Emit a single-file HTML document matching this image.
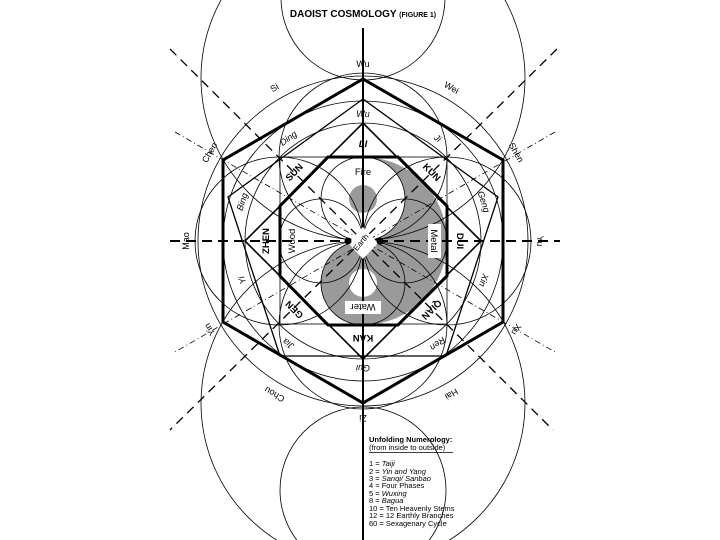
<!DOCTYPE html>
<html><head><meta charset="utf-8"><style>
html,body{margin:0;padding:0;background:#fff;width:720px;height:540px;overflow:hidden;}
svg{display:block;}
text{font-family:"Liberation Sans",sans-serif;fill:#000;}
.o{font-size:9px;}
.s{font-size:9px;font-style:italic;}
.t{font-size:9.5px;font-weight:bold;}
.e{font-size:9.5px;}
.l{font-size:7.5px;}
</style></head><body>
<svg width="720" height="540" viewBox="0 0 720 540" xmlns="http://www.w3.org/2000/svg">
<rect width="720" height="540" fill="#fff"/>
<!-- yin-yang gray -->
<path d="M363,157 A84,84 0 0 1 363,325 A42,42 0 0 1 363,241 A42,42 0 0 0 363,157 Z" fill="#9a9a9a"/>
<circle cx="363" cy="199" r="14" fill="#9a9a9a"/>
<circle cx="363" cy="283" r="14" fill="#fff"/>
<g fill="none" stroke="#000" stroke-width="0.8">
 <circle cx="363" cy="-2" r="82"/>
 <circle cx="363" cy="490" r="83"/>
 <circle cx="363" cy="78" r="162"/>
 <circle cx="363" cy="403" r="162"/>
 <circle cx="363" cy="241" r="165"/>
 <circle cx="363" cy="241" r="140"/>
 <circle cx="363" cy="241" r="118"/>
 <circle cx="363" cy="157" r="84"/>
 <circle cx="363" cy="325" r="84"/>
 <circle cx="279" cy="241" r="84"/>
 <circle cx="447" cy="241" r="84"/>
 <circle cx="363" cy="199" r="42"/>
 <circle cx="363" cy="283" r="42"/>
 <circle cx="321" cy="241" r="42"/>
 <circle cx="405" cy="241" r="42"/>
 <rect x="280" y="157" width="167" height="167"/>
 <polygon points="363,123 481,241 363,359 245,241" stroke-width="1.6"/>
 <polygon points="363,99 498,197 446,356 280,356 228,197" stroke-width="1.3"/>
</g>
<g stroke="#000" fill="none">
 <line x1="170" y1="49" x2="553" y2="430" stroke-width="1.3" stroke-dasharray="9,6"/>
 <line x1="557" y1="49" x2="170" y2="430" stroke-width="1.3" stroke-dasharray="9,6"/>
 <line x1="175" y1="132" x2="555" y2="352" stroke-width="0.8" stroke-dasharray="6,3,1,3"/>
 <line x1="555" y1="132" x2="175" y2="352" stroke-width="0.8" stroke-dasharray="6,3,1,3"/>
 <line x1="170" y1="241" x2="560" y2="241" stroke-width="2" stroke-dasharray="10,6"/>
 <line x1="363" y1="28" x2="363" y2="540" stroke-width="2"/>
 <polygon points="363,79 503,160 503,322 363,403 223,322 223,160" stroke-width="3"/>
 <polygon points="328,157 398,157 447,206 447,276 398,325 328,325 280,276 280,206" stroke-width="3"/>
</g>
<polygon points="363,227 378,243 363,259 348,243" fill="#fff"/>
<circle cx="348" cy="241" r="3.5" fill="#000"/>
<circle cx="380" cy="241" r="3.5" fill="#000"/>
<text x="363" y="244" text-anchor="middle" transform="rotate(-50 363 244)" font-size="8">Earth</text>
<text x="363" y="17" text-anchor="middle" font-size="10" font-weight="bold">DAOIST COSMOLOGY <tspan font-size="7">(FIGURE 1)</tspan></text>
<g class="o" text-anchor="middle">
 <text x="363" y="67" transform="rotate(0 363 241)">Wu</text>
 <text x="363" y="67" transform="rotate(30 363 241)">Wei</text>
 <text x="363" y="67" transform="rotate(60 363 241)">Shen</text>
 <text x="363" y="67" transform="rotate(90 363 241)">Yu</text>
 <text x="363" y="67" transform="rotate(120 363 241)">Xu</text>
 <text x="363" y="67" transform="rotate(150 363 241)">Hai</text>
 <text x="363" y="67" transform="rotate(180 363 241)">Zi</text>
 <text x="363" y="67" transform="rotate(210 363 241)">Chou</text>
 <text x="363" y="67" transform="rotate(240 363 241)">Yin</text>
 <text x="363" y="67" transform="rotate(270 363 241)">Mao</text>
 <text x="363" y="67" transform="rotate(300 363 241)">Chen</text>
 <text x="363" y="67" transform="rotate(330 363 241)">Si</text>
</g>
<g class="s" text-anchor="middle">
 <text x="363" y="117" transform="rotate(0 363 241)">Wu</text>
 <text x="363" y="117" transform="rotate(36 363 241)">Ji</text>
 <text x="363" y="117" transform="rotate(72 363 241)">Geng</text>
 <text x="363" y="117" transform="rotate(108 363 241)">Xin</text>
 <text x="363" y="117" transform="rotate(144 363 241)">Ren</text>
 <text x="363" y="117" transform="rotate(180 363 241)">Gui</text>
 <text x="363" y="117" transform="rotate(216 363 241)">Jia</text>
 <text x="363" y="117" transform="rotate(252 363 241)">Yi</text>
 <text x="363" y="117" transform="rotate(288 363 241)">Bing</text>
 <text x="363" y="117" transform="rotate(324 363 241)">Ding</text>
</g>
<g class="t" text-anchor="middle">
 <text x="363" y="147" transform="rotate(0 363 241)" font-style="italic">LI</text>
 <text x="363" y="147" transform="rotate(45 363 241)">KUN</text>
 <text x="363" y="147" transform="rotate(90 363 241)">DUI</text>
 <text x="363" y="147" transform="rotate(135 363 241)">QIAN</text>
 <text x="363" y="147" transform="rotate(180 363 241)">KAN</text>
 <text x="363" y="147" transform="rotate(225 363 241)">GEN</text>
 <text x="363" y="147" transform="rotate(270 363 241)">ZHEN</text>
 <text x="363" y="147" transform="rotate(315 363 241)">SUN</text>
</g>
<text class="e" x="363" y="175" text-anchor="middle">Fire</text>
<g transform="rotate(180 363 241)"><rect x="345" y="168" width="36" height="13" fill="#fff"/><text class="e" x="363" y="178" text-anchor="middle">Water</text></g>
<g transform="rotate(90 363 241)"><rect x="346" y="163" width="34" height="13" fill="#fff"/><text class="e" x="363" y="173" text-anchor="middle">Metal</text></g>
<g transform="rotate(-90 363 241)"><text class="e" x="363" y="173" text-anchor="middle">Wood</text></g>
<g class="l">
 <text x="369" y="442" font-weight="bold">Unfolding Numerology:</text>
 <text x="369" y="450">(from inside to outside)</text>
 <line x1="369" y1="452.5" x2="453" y2="452.5" stroke="#000" stroke-width="0.8"/>
 <text x="369" y="466">1 = <tspan font-style="italic">Taiji</tspan></text>
 <text x="369" y="474">2 = <tspan font-style="italic">Yin and Yang</tspan></text>
 <text x="369" y="481">3 = <tspan font-style="italic">Sanqi/ Sanbao</tspan></text>
 <text x="369" y="488">4 = Four Phases</text>
 <text x="369" y="496">5 = <tspan font-style="italic">Wuxing</tspan></text>
 <text x="369" y="503">8 = <tspan font-style="italic">Bagua</tspan></text>
 <text x="369" y="511">10 = Ten Heavenly Stems</text>
 <text x="369" y="518">12 = 12 Earthly Branches</text>
 <text x="369" y="526">60 = Sexagenary Cycle</text>
</g>
</svg>
</body></html>
